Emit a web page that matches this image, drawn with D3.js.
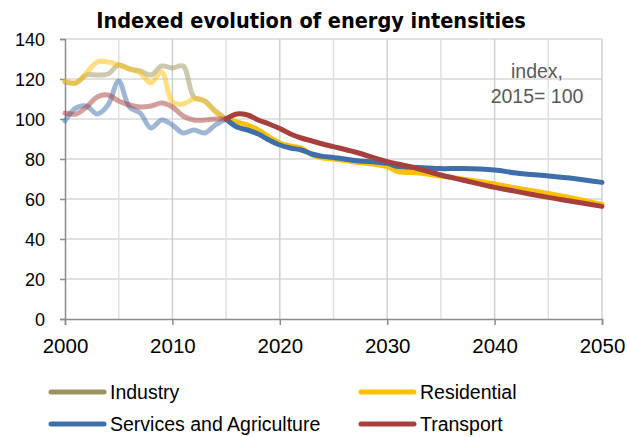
<!DOCTYPE html>
<html>
<head>
<meta charset="utf-8">
<script src="https://cdn.jsdelivr.net/npm/d3@7"></script>
<style>
  html, body { margin: 0; padding: 0; background: #fff; }
  svg text { font-family: "Liberation Sans", Arial, sans-serif; }
</style>
</head>
<body>
<svg id="chart" width="627" height="437"></svg>
<script>
// ---- data ----
const histYears = [2000,2001,2002,2003,2004,2005,2006,2007,2008,2009,2010,2011,2012,2013,2014,2015];
const industryHist    = [118.5,118,122,122,122.5,127,125,124,122,126.5,125.5,126.5,111,109,104,100];
const residentialHist = [119,118,123,128.5,128.5,127,125,123,118,123.5,108.5,107.5,110,109,103.5,100];
const servicesHist    = [99,105.5,106.5,102.5,107,119,106,103,95.5,99.5,97,93,94.5,93,97,100];
const transportHist   = [103,102.5,106,111,112,109,107,106,106.5,108,106,101.5,99.5,99.5,100,100];

const projYears = [2015,2016,2017,2018,2019,2020,2021,2022,2023,2024,2025,2027,2030,2031,2033,2035,2037,2040,2042,2045,2047,2050];
const residentialProj = [100,98.5,97,94.5,91,88,86.5,85.5,82,80.5,80,78.5,76.2,73.7,73,71.5,70,67.5,65.5,62.8,60.8,57.3];
const servicesProj    = [100,96,94.5,92.5,89.5,87,85.5,84.5,82.5,81.3,80.8,79.3,77.8,76.2,75.8,75.2,75.3,74.5,73,71.5,70.5,68.3];
const transportProj   = [100,102.5,102,99.5,97.5,95.2,92.5,90.5,89,87.5,86.2,83.5,78.7,77.5,75,72,69.5,65.8,63.8,60.8,59,56.3];

const seriesNames = ["Industry","Residential","Services and Agriculture","Transport"];
const seriesColors = ["#9c9460","#ffc000","#3f6faa","#a5403c"];
const yTicks = [0,20,40,60,80,100,120,140];
const xTicks = [2000,2010,2020,2030,2040,2050];
const xGrid = [2005,2010,2015,2020,2025,2030,2035,2040,2045,2050];
const titleText = "Indexed evolution of energy intensities";
const noteLines = ["index,", "2015= 100"];

// ---- layout ----
const svg = d3.select("#chart");
const m = {left: 65, right: 25, top: 39, bottom: 118};
const W = 627, H = 437;
const x = d3.scaleLinear().domain([2000, 2050]).range([m.left, W - m.right]);
const y = d3.scaleLinear().domain([0, 140]).range([H - m.bottom, m.top]);

// gridlines
const g = svg.append("g");
g.selectAll("line.hg").data(yTicks.filter(d => d > 0)).join("line")
  .attr("x1", x(2000)).attr("x2", x(2050))
  .attr("y1", d => y(d)).attr("y2", d => y(d))
  .attr("stroke", "#d9d9d9").attr("stroke-width", 1.5);
g.selectAll("line.vg").data(xGrid).join("line")
  .attr("x1", d => x(d)).attr("x2", d => x(d))
  .attr("y1", y(0)).attr("y2", y(140))
  .attr("stroke", d => d % 10 === 0 ? "#cfcfcf" : "#e0e0e0").attr("stroke-width", 1.5);

// axes
const yAxis = d3.axisLeft(y).tickValues(yTicks).tickSize(5).tickPadding(15);
const ya = svg.append("g").attr("transform", `translate(${m.left},0)`).call(yAxis);
const xAxis = d3.axisBottom(x).tickValues(xTicks).tickFormat(d3.format("d")).tickSize(6).tickPadding(13);
const xa = svg.append("g").attr("transform", `translate(0,${y(0)})`).call(xAxis);
[ya, xa].forEach(a => {
  a.select(".domain").attr("stroke", "#8c8c8c").attr("stroke-width", 1.5);
  a.selectAll(".tick line").attr("stroke", "#8c8c8c").attr("stroke-width", 1.5);
  a.selectAll(".tick text").attr("fill", "#000")
    .style("font-family", "'Liberation Sans',Arial,sans-serif");
});
ya.selectAll(".tick text").attr("dy", "0.35em").style("font-size", "18px");
xa.selectAll(".tick text").style("font-size", "20.5px");

// lines
const line = d3.line().x(d => x(d[0])).y(d => y(d[1])).curve(d3.curveCatmullRom.alpha(0.5));
const hist = [industryHist, residentialHist, servicesHist, transportHist];
const proj = [null, residentialProj, servicesProj, transportProj];
const lg = svg.append("g").attr("fill", "none").attr("stroke-width", 5).attr("stroke-linecap", "round").attr("stroke-linejoin", "round");
hist.forEach((vals, i) => {
  lg.append("path").datum(histYears.map((yr, j) => [yr, vals[j]]))
    .attr("d", line).attr("stroke", seriesColors[i]).attr("stroke-opacity", 0.5);
});
proj.forEach((vals, i) => {
  if (!vals) return;
  lg.append("path").datum(projYears.map((yr, j) => [yr, vals[j]]))
    .attr("d", line).attr("stroke", seriesColors[i]);
});

// title
svg.append("text").attr("x", 311).attr("y", 28).attr("text-anchor", "middle")
  .style("font-family", "'DejaVu Sans Condensed','DejaVu Sans',sans-serif")
  .style("font-weight", "bold").style("font-size", "21.5px").attr("fill", "#000")
  .text(titleText);

// note
svg.append("g").selectAll("text").data(noteLines).join("text")
  .attr("x", 537).attr("y", (d, i) => 78 + i * 25).attr("text-anchor", "middle")
  .attr("fill", "#595959").style("font-size", "19.5px").text(d => d);

// legend
const legPos = [[51, 392], [361, 392], [51, 424], [361, 424]];
const leg = svg.append("g").selectAll("g").data(seriesNames).join("g")
  .attr("transform", (d, i) => `translate(${legPos[i][0]},${legPos[i][1]})`);
leg.append("line").attr("x1", 0).attr("x2", 53).attr("y1", 0).attr("y2", 0)
  .attr("stroke", (d, i) => seriesColors[i]).attr("stroke-width", 5).attr("stroke-linecap", "round");
leg.append("text").attr("x", 59).attr("y", 0).attr("dy", "0.35em")
  .attr("fill", "#000").style("font-size", "19.5px").text(d => d);
</script>
</body>
</html>
